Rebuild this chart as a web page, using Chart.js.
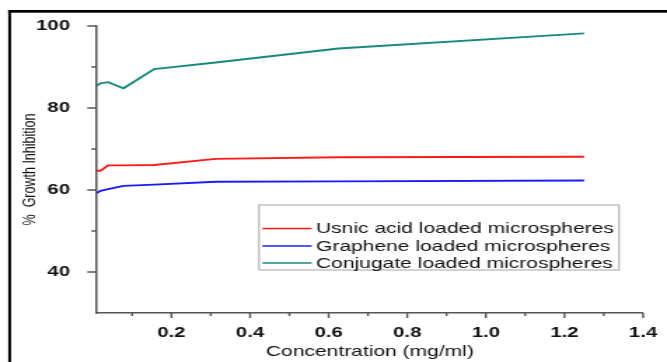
<!DOCTYPE html>
<html>
<head>
<meta charset="utf-8">
<script src="https://cdn.jsdelivr.net/npm/chart.js@4.4.1/dist/chart.umd.min.js"></script>
<style>
html, body { margin: 0; padding: 0; background: #fff; overflow: hidden; }
/* the original picture is stretched sideways, so the chart is drawn narrow and widened */
#wrap { width: 476px; height: 362px; transform: scaleX(1.4013); transform-origin: 0 0; }
</style>
</head>
<body>
<div id="wrap"><canvas id="chart" width="476" height="362"></canvas></div>
<script>
var concentration = [0.0098, 0.0195, 0.039, 0.078, 0.156, 0.3125, 0.625, 1.25];
var usnic = [64.7, 64.7, 66.0, 66.0, 66.1, 67.6, 68.0, 68.1];
var graphene = [59.3, 59.8, 60.2, 61.0, 61.3, 62.0, 62.1, 62.3];
var conjugate = [85.4, 86.0, 86.3, 84.8, 89.5, 91.1, 94.5, 98.2];
var seriesNames = ["Usnic acid loaded microspheres", "Graphene loaded microspheres", "Conjugate loaded microspheres"];
var xTicks = [0.2, 0.4, 0.6, 0.8, 1.0, 1.2, 1.4];
var xMinor = [0.1, 0.3, 0.5, 0.7, 0.9, 1.1, 1.3];
var yTicks = [40, 60, 80, 100];
var yMinor = [50, 70, 90];

function points(ys) {
  return concentration.map(function (x, i) { return { x: x, y: ys[i] }; });
}

var axisColor = '#555';
var font = 'Liberation Sans, Arial, sans-serif';

// frame, tick marks and the boxed legend
var extras = {
  id: 'extras',
  beforeDraw: function (chart) {
    var c = chart.ctx;
    c.save();
    c.fillStyle = '#fff';
    c.fillRect(0, 0, chart.width, chart.height);
    c.fillStyle = '#000';
    c.fillRect(5.9, 10, 2, chart.height - 10);
    c.fillRect(5.9, 10, chart.width, 2.7);
    c.restore();
  },
  afterDraw: function (chart) {
    var c = chart.ctx;
    var xs = chart.scales.x, ys = chart.scales.y;
    var area = chart.chartArea;
    c.save();
    c.strokeStyle = axisColor;
    c.lineWidth = 1.4;
    c.beginPath();
    xTicks.forEach(function (v) {
      var px = xs.getPixelForValue(v);
      c.moveTo(px, area.bottom); c.lineTo(px, area.bottom + 5);
    });
    xMinor.forEach(function (v) {
      var px = xs.getPixelForValue(v);
      c.moveTo(px, area.bottom); c.lineTo(px, area.bottom + 3);
    });
    c.stroke();
    c.beginPath();
    yTicks.forEach(function (v) {
      var py = ys.getPixelForValue(v);
      c.moveTo(area.left, py); c.lineTo(area.left - 6.7, py);
    });
    yMinor.forEach(function (v) {
      var py = ys.getPixelForValue(v);
      c.moveTo(area.left, py); c.lineTo(area.left - 3.8, py);
    });
    c.stroke();

    // legend box
    var bx = 184.8, by = 205, bw = 256.9, bh = 65;
    c.fillStyle = '#fff';
    c.fillRect(bx, by, bw, bh);
    c.strokeStyle = '#bbb';
    c.lineWidth = 1.3;
    c.strokeRect(bx, by, bw, bh);
    c.font = '15px ' + font;
    c.textBaseline = 'middle';
    c.fillStyle = '#111';
    var rows = [228.5, 246, 263];
    chart.data.datasets.forEach(function (ds, i) {
      c.strokeStyle = ds.borderColor;
      c.lineWidth = 1.6;
      c.beginPath();
      c.moveTo(187.2, rows[i]); c.lineTo(222.4, rows[i]);
      c.stroke();
      c.fillText(ds.label, 225.5, rows[i] + 0.5);
    });
    c.restore();
  }
};

new Chart(document.getElementById('chart'), {
  type: 'line',
  data: {
    datasets: [
      { label: seriesNames[0], data: points(usnic), borderColor: '#ff1a1a' },
      { label: seriesNames[1], data: points(graphene), borderColor: '#1a1aff' },
      { label: seriesNames[2], data: points(conjugate), borderColor: '#17897f' }
    ]
  },
  options: {
    responsive: false,
    animation: false,
    devicePixelRatio: 1,
    layout: { padding: { left: 0, top: 26, right: 17.1, bottom: 0 } },
    elements: {
      line: { borderWidth: 1.9, tension: 0, fill: false },
      point: { radius: 0 }
    },
    plugins: { legend: { display: false }, tooltip: { enabled: false } },
    scales: {
      x: {
        type: 'linear',
        min: 0.0098,
        max: 1.4,
        afterBuildTicks: function (s) { s.ticks = xTicks.map(function (v) { return { value: v }; }); },
        afterFit: function (s) { s.height = 49; },
        grid: { display: false },
        border: { display: true, color: axisColor, width: 1.5 },
        ticks: {
          padding: 3,
          color: '#111',
          maxRotation: 0,
          font: { family: font, size: 14.5, weight: 'bold' },
          callback: function (v) { return v.toFixed(1); }
        },
        title: {
          display: true,
          text: 'Concentration (mg/ml)',
          color: '#111',
          font: { family: font, size: 15 },
          padding: { top: 0, bottom: 1 }
        }
      },
      y: {
        min: 30,
        max: 100,
        afterBuildTicks: function (s) { s.ticks = yTicks.map(function (v) { return { value: v }; }); },
        afterFit: function (s) { s.width = 69; },
        grid: { display: false },
        border: { display: true, color: axisColor, width: 1.5 },
        ticks: {
          padding: 11,
          color: '#111',
          font: { family: font, size: 14.5, weight: 'bold' }
        },
        title: {
          display: true,
          text: '%  Growth Inhibition',
          color: '#111',
          font: { family: font, size: 12.5 },
          padding: { top: 14, bottom: 0 }
        }
      }
    }
  },
  plugins: [extras]
});
</script>
</body>
</html>
